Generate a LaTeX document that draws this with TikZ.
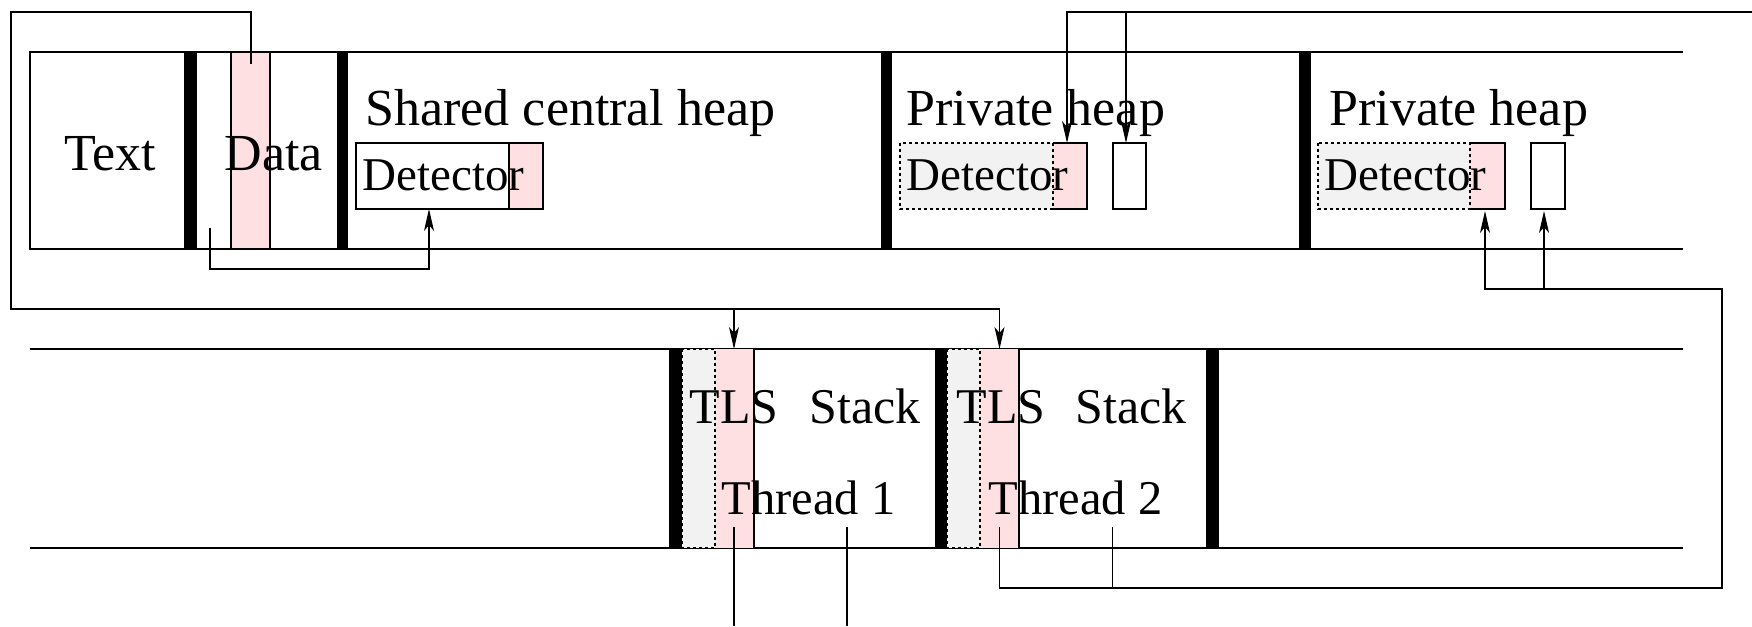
\documentclass[tikz,border=0pt]{standalone}
\usepackage{fontspec}
\setmainfont{Liberation Serif}
\usetikzlibrary{arrows.meta}
\definecolor{pinkfill}{RGB}{255,224,226}
\definecolor{grayfill}{RGB}{242,242,242}
\begin{document}
\begin{tikzpicture}[x=1pt,y=-1pt, line width=1.1pt,
  bar/.style={fill=black,draw=none},
  pinkbox/.style={fill=pinkfill,draw=black},
  pinkonly/.style={fill=pinkfill,draw=none},
  graybox/.style={fill=grayfill,draw=black,dash pattern=on 3pt off 3pt},
  big/.style={font=\fontsize{52}{60}\selectfont, inner sep=0pt, anchor=base west},
  mid/.style={font=\fontsize{50}{60}\selectfont, inner sep=0pt, anchor=base west},
  thr/.style={font=\fontsize{48.5}{58}\selectfont, inner sep=0pt, anchor=base west},
  det/.style={font=\fontsize{47}{54}\selectfont, inner sep=0pt, anchor=base west},
  arr/.style={-{Stealth[length=22pt,width=10pt,inset=6pt]}}
]
\useasboundingbox (0,0) rectangle (1752,626);

% ---------- Row 1 (address space, heaps) ----------
\draw[pinkbox] (231,52) rectangle (270,249);
\draw (1683,52) -- (30,52) -- (30,249) -- (1683,249);
\fill[bar] (184,52) rectangle (197,249);
\fill[bar] (337,52) rectangle (348,249);
\fill[bar] (881,52) rectangle (892,249);
\fill[bar] (1299,52) rectangle (1311,249);

% shared detector
\draw (356,143) rectangle (509,209);
\draw[pinkbox] (509,143) rectangle (543,209);
% private heap 1 detector
\fill[pinkonly] (1053,143) rectangle (1087,209);
\draw (1053,143) -- (1087,143) -- (1087,209) -- (1053,209);
\draw[graybox] (900,143) rectangle (1053,209);
\draw (1113,143) rectangle (1146,209);
% private heap 2 detector
\fill[pinkonly] (1470,143) rectangle (1505,209);
\draw (1470,143) -- (1505,143) -- (1505,209) -- (1470,209);
\draw[graybox] (1318,143) rectangle (1470,209);
\draw (1531,143) rectangle (1565,209);

\node[big] (ttext) at (64,170) {Text};
\node[big] (tdata) at (224,170) {Data};
\node[big] (tshared) at (365,125) {Shared central heap};
\node[det] (tdet0) at (362,190) {Detector};
\node[big] (tpriv1) at (906,125) {Private heap};
\node[det] (tdet1) at (906,190) {Detector};
\node[big] (tpriv2) at (1329,125) {Private heap};
\node[det] (tdet2) at (1324,190) {Detector};

% ---------- Row 2 (threads) ----------
\draw (30,349) -- (1683,349);
\draw (30,548) -- (1683,548);
\fill[pinkonly] (715,349) rectangle (754,548);
\draw (754,349) -- (754,548);
\fill[pinkonly] (980,349) rectangle (1019,548);
\draw (1019,349) -- (1019,548);
\draw[graybox] (682,349) rectangle (715,548);
\draw[graybox] (947,349) rectangle (980,548);
\fill[bar] (669,349) rectangle (682,548);
\fill[bar] (935,349) rectangle (947,548);
\fill[bar] (1206,349) rectangle (1219,548);

\node[mid] (ttls1) at (689,423) {TLS};
\node[mid] (tstack1) at (809,423) {Stack};
\node[thr] (tthr1) at (721,514) {Thread 1};
\node[mid] (ttls2) at (956,423) {TLS};
\node[mid] (tstack2) at (1075,423) {Stack};
\node[thr] (tthr2) at (988,514) {Thread 2};

% ---------- connector coordinates ----------
\coordinate (dataTop) at (251,64);
\coordinate (dataLow) at (210,228);
\coordinate (det0B) at (429,209);
\coordinate (tls1T) at (734,349);
\coordinate (tls2T) at (999.5,349);
\coordinate (p1pinkT) at (1067,143);
\coordinate (p1boxT) at (1126,143);
\coordinate (p2pinkB) at (1485,211);
\coordinate (p2boxB) at (1544,211);
\coordinate (tls1B) at (734,527);
\coordinate (stk1B) at (847,527);
\coordinate (tls2B) at (999.5,527);
\coordinate (stk2B) at (1112.5,527);
\coordinate (edgeR) at (1752,12);

% Data -> TLS of both threads
\draw[arr] (dataTop) -- (251,12) -- (11,12) -- (11,309) -- (999.5,309) -- (tls2T);
\draw[arr] (734,309) -- (tls1T);
% Data -> shared detector
\draw[arr] (dataLow) -- (210,269) -- (429,269) -- (det0B);
% from right edge -> private heap 1
\draw[arr] (edgeR) -- (1067,12) -- (p1pinkT);
\draw[arr] (1126,12) -- (p1boxT);
% thread 2 -> private heap 2
\draw[arr] (tls2B) -- (999.5,588) -- (1722,588) -- (1722,289) -- (1485,289) -- (p2pinkB);
\draw (stk2B) -- (1112.5,588);
\draw[arr] (1544,289) -- (p2boxB);
% thread 1 lines leaving the picture
\coordinate (out1) at (734,626);
\coordinate (out2) at (847,626);
\draw (tls1B) -- (out1);
\draw (stk1B) -- (out2);
\end{tikzpicture}
\end{document}
